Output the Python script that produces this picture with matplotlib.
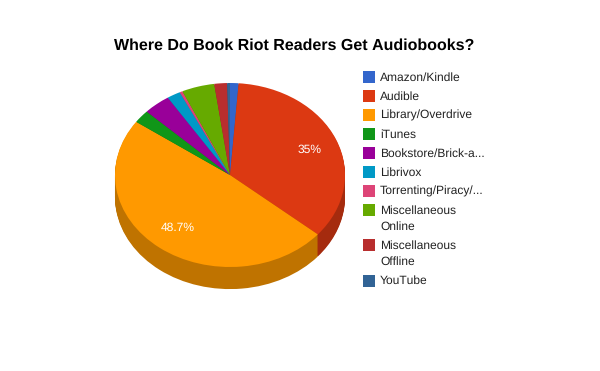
import matplotlib
matplotlib.use('Agg')
import matplotlib.pyplot as plt
from matplotlib.colors import to_rgb
from matplotlib.patches import Rectangle

plt.rcParams['font.family'] = ['Liberation Sans', 'DejaVu Sans']
plt.rcParams['text.hinting'] = 'no_hinting'
plt.rcParams['text.hinting_factor'] = 1

# Values, percent of answers
categories = ['Amazon/Kindle', 'Audible', 'Library/Overdrive', 'iTunes', 'Bookstore/Brick-a...', 'Librivox',
              'Torrenting/Piracy/...', 'Miscellaneous\nOnline', 'Miscellaneous\nOffline', 'YouTube']
values = [1.2, 35, 48.7, 2.3, 3.8, 1.9, 0.4, 4.6, 1.8, 0.4]
colors = ['#3366cc', '#dc3912', '#ff9900', '#109618', '#990099', '#0099c6', '#dd4477', '#66aa00', '#b82e2e', '#316395']
title = 'Where Do Book Riot Readers Get Audiobooks?'

W, H = 600, 371
fig = plt.figure(figsize=(W / 100, H / 100), dpi=100)

# pie axes, the top ellipse fills it
ax = fig.add_axes([115 / W, 1 - 267 / H, 230 / W, 184 / H])
dark = [tuple(c * 0.75 for c in to_rgb(col)) for col in colors]

# stack of darker pies makes the 3d wall
for i in range(24, 0, -1):
    ax.pie(values, colors=dark, startangle=90, counterclock=False, center=(0, -i * 0.01),
           wedgeprops={'linewidth': 0, 'clip_on': False})
ax.pie(values, colors=colors, startangle=90, counterclock=False,
       wedgeprops={'linewidth': 0, 'clip_on': False})
ax.set_aspect('auto')
ax.set_xlim(-1, 1)
ax.set_ylim(-1, 1)

# overlay in pixel coordinates for the texts and legend
over = fig.add_axes([0, 0, 1, 1])
over.set_xlim(0, W)
over.set_ylim(H, 0)
over.axis('off')

over.text(294.5, 45.7, title, fontsize=11.5, fontweight='bold', color='black', ha='center', va='center')
over.text(310, 149.6, f'{values[1]:g}%', fontsize=8.6, color='white', ha='center', va='center')
over.text(177.5, 227.6, f'{values[2]:g}%', fontsize=8.6, color='white', ha='center', va='center')

y = 77
for name, col in zip(categories, colors):
    over.add_patch(Rectangle((363, y - 6), 12, 12, facecolor=col, edgecolor='none'))
    lines = name.split('\n')
    for k, line in enumerate(lines):
        over.text(380, y + k * 16 + 0.6, line, fontsize=8.7, color='#222222', ha='left', va='center')
    y += 19 if len(lines) == 1 else 35.3

fig.savefig('out.png', dpi=100, facecolor='white')
